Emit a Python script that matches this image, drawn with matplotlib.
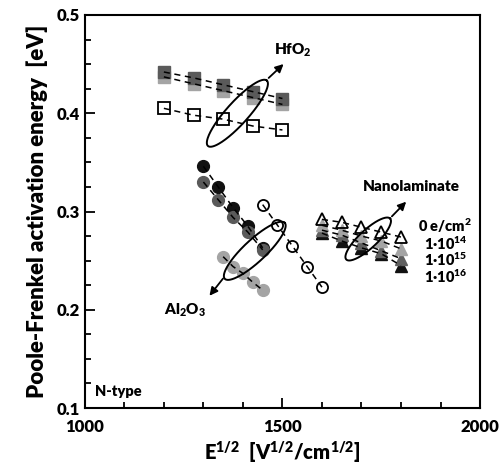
import numpy as np
import matplotlib
matplotlib.use("Agg")
import matplotlib.pyplot as plt

plt.rcParams["font.family"] = ["Lato", "DejaVu Sans"]
plt.rcParams["font.weight"] = "heavy"
plt.rcParams["mathtext.default"] = "regular"

# HfO2 (squares)
hf_x = [1200, 1275, 1350, 1425, 1500]
hf_0 = [0.405, 0.398, 0.394, 0.387, 0.383]
hf_dark = [0.442, 0.436, 0.429, 0.422, 0.415]
hf_light = [0.437, 0.430, 0.423, 0.416, 0.409]

# Al2O3 (circles)
al_x = [1300, 1337.5, 1375, 1412.5, 1450]
al_black = [0.346, 0.325, 0.304, 0.285, 0.263]
al_dark = [0.330, 0.312, 0.294, 0.279, 0.261]
al_light_x = [1350, 1375, 1400, 1425, 1450]
al_light = [0.254, 0.244, 0.237, 0.228, 0.220]
al_0_x = [1450, 1487.5, 1525, 1562.5, 1600]
al_0 = [0.307, 0.286, 0.265, 0.244, 0.223]

# Nanolaminate (triangles)
nl_x = [1600, 1650, 1700, 1750, 1800]
nl_0 = [0.292, 0.289, 0.284, 0.279, 0.274]
nl_14 = [0.286, 0.281, 0.275, 0.270, 0.262]
nl_15 = [0.281, 0.276, 0.268, 0.260, 0.252]
nl_16 = [0.278, 0.270, 0.263, 0.257, 0.245]

dose_labels = ["0 e/cm$^2$", "1·10$^{14}$", "1·10$^{15}$", "1·10$^{16}$"]

BLACK = "#111111"
DARK = "#5a5a5a"
MID = "#606060"
LIGHT = "#a4a4a4"
dash = (0, (4, 3))
W = "heavy"

fig = plt.figure(figsize=(4.99, 4.73), dpi=100)
ax = fig.add_axes([0.170, 0.1374, 0.792, 0.8309])
ax.set_xlim(1000, 2000)
ax.set_ylim(0.1, 0.5)


def series(x, y, marker, color, ms, filled=True):
    if filled:
        ax.plot(x, y, linestyle="none", marker=marker, ms=ms, mfc=color,
                mec=color, zorder=2)
    else:
        ax.plot(x, y, linestyle="none", marker=marker, ms=ms, mfc="none",
                mec="black", mew=1.3, zorder=4)
    ax.plot(x, y, color="black", lw=1.1, linestyle=dash, zorder=3)


# squares
series(hf_x, hf_light, "s", LIGHT, 8.5)
series(hf_x, hf_dark, "s", DARK, 8.5)
series(hf_x, hf_0, "s", None, 8, filled=False)

# circles
series(al_light_x, al_light, "o", LIGHT, 8.5)
series(al_x, al_black, "o", BLACK, 8.5)
series(al_x, al_dark, "o", DARK, 8.5)
series(al_0_x, al_0, "o", None, 8, filled=False)

# triangles
series(nl_x, nl_16, "^", BLACK, 9)
series(nl_x, nl_15, "^", MID, 9)
series(nl_x, nl_14, "^", LIGHT, 9)
series(nl_x, nl_0, "^", None, 8, filled=False)


def ellipse(cx, cy, a, b, ang):
    # a, b in pixels, angle in degrees, centre in data units
    fig.canvas.draw()
    c = ax.transData.transform((cx, cy))
    t = np.linspace(0, 2 * np.pi, 200)
    th = np.radians(ang)
    px = c[0] + a * np.cos(t) * np.cos(th) - b * np.sin(t) * np.sin(th)
    py = c[1] + a * np.cos(t) * np.sin(th) + b * np.sin(t) * np.cos(th)
    pts = ax.transData.inverted().transform(np.column_stack([px, py]))
    ax.plot(pts[:, 0], pts[:, 1], color="black", lw=1.4, zorder=5)


ellipse(1386, 0.400, 44, 11, 48)
ellipse(1430, 0.260, 41, 11, 43)
ellipse(1717, 0.272, 30, 9, 43)

arrow = dict(arrowstyle="-|>", color="black", lw=1.3, mutation_scale=12)
ax.annotate("", xy=(1508, 0.452), xytext=(1460, 0.434), arrowprops=arrow, zorder=6)
ax.annotate("", xy=(1311, 0.212), xytext=(1354, 0.234), arrowprops=arrow, zorder=6)
ax.annotate("", xy=(1818, 0.312), xytext=(1772, 0.293), arrowprops=arrow, zorder=6)

ax.text(1527, 0.464, "HfO$_2$", ha="center", va="center", fontsize=11, fontweight=W)
ax.text(1253, 0.199, "Al$_2$O$_3$", ha="center", va="center", fontsize=11, fontweight=W)
ax.text(1825, 0.325, "Nanolaminate", ha="center", va="center", fontsize=11, fontweight=W)
ax.text(1025, 0.117, "N-type", ha="left", va="center", fontsize=10.5, fontweight=W)

label_y = [0.285, 0.268, 0.251, 0.234]
for lab, ly in zip(dose_labels, label_y):
    ax.text(1912, ly, lab, ha="center", va="center", fontsize=10.5, fontweight=W)

ax.set_xticks([1000, 1500, 2000])
ax.set_xticks(np.arange(1000, 2001, 100), minor=True)
ax.set_yticks([0.1, 0.2, 0.3, 0.4, 0.5])
ax.set_yticks(np.arange(0.1, 0.501, 0.025), minor=True)
ax.set_yticklabels(["0.1", "0.2", "0.3", "0.4", "0.5"])
ax.tick_params(which="both", direction="in", width=1.3, labelsize=12)
ax.tick_params(which="major", length=7)
ax.tick_params(which="minor", length=4)
ax.tick_params(axis="x", pad=8)
for s in ax.spines.values():
    s.set_linewidth(1.5)
for lab in ax.get_xticklabels() + ax.get_yticklabels():
    lab.set_fontweight(W)

ax.set_xlabel("E$^{1/2}$  [V$^{1/2}$/cm$^{1/2}$]", fontsize=14.5, fontweight=W, labelpad=3)
ax.set_ylabel("Poole-Frenkel activation energy  [eV]", fontsize=16, fontweight=W, labelpad=6)

fig.savefig("out.png", dpi=100)
